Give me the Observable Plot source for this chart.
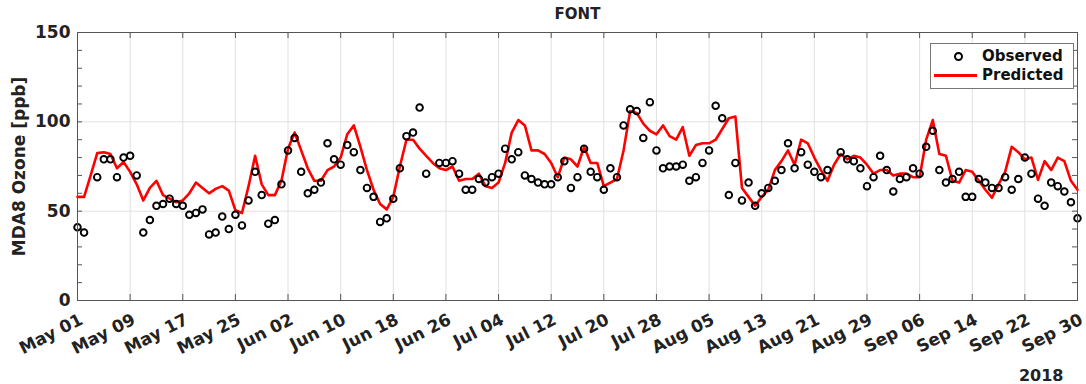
<!DOCTYPE html>
<html><head><meta charset="utf-8">
<script src="https://cdn.jsdelivr.net/npm/d3@7"></script>
<script src="https://cdn.jsdelivr.net/npm/@observablehq/plot@0.6"></script>
<style>
body{margin:0;background:#fff;font-family:"DejaVu Sans",sans-serif;}
#wrap{position:relative;width:1086px;height:384px;overflow:hidden;}
#legend{position:absolute;left:930px;top:43px;width:144px;height:46px;border:1px solid #777;background:#fff;box-sizing:border-box;font-weight:bold;font-size:15px;color:#111;}
#legend .row{position:absolute;left:0;height:20px;line-height:20px;}
#legend .txt{position:absolute;left:51px;}
#legend .circ{position:absolute;left:23px;top:6px;width:5px;height:5px;border:2px solid #000;border-radius:50%;}
#legend .ln{position:absolute;left:3px;top:9px;width:43px;height:3px;background:#f00;}
</style></head><body><div id="wrap"></div>
<script>
const title = "FONT";
const yLabel = "MDA8 Ozone [ppb]";
const yearLabel = "2018";
const startDate = "2018-05-01";
const observed = [41,38,null,69,79,79,69,80,81,70,38,45,53,54,57,54,53,48,49,51,37,38,47,40,48,42,56,72,59,43,45,65,84,91,72,60,62,66,88,79,76,87,83,73,63,58,44,46,57,74,92,94,108,71,null,77,77,78,71,62,62,68,66,69,71,85,79,83,70,68,66,65,65,69,78,63,69,85,72,69,62,74,69,98,107,106,91,111,84,74,75,75,76,67,69,77,84,109,102,59,77,56,66,53,60,63,67,73,88,74,83,76,72,69,73,null,83,79,78,74,64,69,81,73,61,68,69,74,71,86,95,73,66,68,72,58,58,68,66,63,63,69,62,68,80,71,57,53,66,64,61,55,46];
const predicted = [58,58,70,82.5,83,82,74,77.5,72,65,56,63,67,59,57,55,56,60,66,63,60,62.5,64,61.5,50.5,49,64,81,65,59,59,67,85,94,84,74,67,67,73,75,80,93,98,86,73,62,54,51,58,75,90,90,85,81,77,74,73,75,67,68,68,71,64,63,66,77,94,101,98,84,84,82,77,69,80,79,75,86,77,77,64,66,68,84,106,105,99,95,93,98,92,90,97,81,87,88,88,90,96,102,103,63,58,53,58,62,73,78,84,76,90,88,80,73,67,76,82,79,81,80,76,71,73,73,70,71,71,69,69,90,101,82,81,67,66,73,72,67,62,57.5,65,72,86,83,79,80,67.5,78,73,80,78,67,62];
const xTickLabels = ["2018-05-01","2018-05-09","2018-05-17","2018-05-25","2018-06-02","2018-06-10","2018-06-18","2018-06-26","2018-07-04","2018-07-12","2018-07-20","2018-07-28","2018-08-05","2018-08-13","2018-08-21","2018-08-29","2018-09-06","2018-09-14","2018-09-22","2018-09-30"];
const yMajor = [0,50,100,150];
const yMinor = [0,10,20,30,40,50,60,70,80,90,100,110,120,130,140,150];
const legendItems = ["Observed","Predicted"];

const start = new Date(startDate);
const dates = observed.map((_, i) => d3.utcDay.offset(start, i));
const rows = dates.map((date, i) => ({date, obs: observed[i], pred: predicted[i]}));
const xTicks = xTickLabels.map(s => new Date(s));

const chart = Plot.plot({
  width: 1086, height: 384,
  marginLeft: 77, marginRight: 9, marginTop: 32, marginBottom: 84,
  style: {fontFamily: "DejaVu Sans", fontSize: "16px", fontWeight: "bold", color: "#222", background: "white"},
  x: {type: "utc", domain: [dates[0], dates[dates.length - 1]]},
  y: {domain: [0, 150]},
  marks: [
    Plot.gridX(xTicks, {stroke: "#e0e0e0", strokeOpacity: 1}),
    Plot.gridY([50, 100], {stroke: "#e0e0e0", strokeOpacity: 1}),
    Plot.tickY(yMinor, {y: d => d, insetRight: 995, stroke: "#555"}),
    Plot.tickY(yMinor, {y: d => d, insetLeft: 995, stroke: "#555"}),
    Plot.tickX(xTicks, {x: d => d, insetTop: 262, stroke: "#555"}),
    Plot.tickX(xTicks, {x: d => d, insetBottom: 262, stroke: "#555"}),
    Plot.line(rows, {x: "date", y: "pred", stroke: "#f00", strokeWidth: 2.6}),
    Plot.dot(rows, {filter: d => d.obs != null, x: "date", y: "obs", r: 3.3, stroke: "#000", strokeWidth: 1.9, fill: "none"}),
    Plot.frame({stroke: "#555"}),
    Plot.axisY(yMajor, {tickSize: 0, tickPadding: 7, fontSize: 17, label: null}),
    Plot.axisX(xTicks, {tickSize: 0, tickRotate: -27, tickPadding: 18, dx: 4, tickFormat: d3.utcFormat("%b %d"), fontSize: 17, label: null}),
    Plot.text([title], {frameAnchor: "top", dy: -18, lineAnchor: "middle", fontSize: 15}),
    Plot.text([yLabel], {frameAnchor: "left", rotate: -90, dx: -58, textAnchor: "middle", fontSize: 17}),
    Plot.text([yearLabel], {frameAnchor: "bottom-right", dy: 75, dx: -14, textAnchor: "end", lineAnchor: "middle", fontSize: 16})
  ]
});
const wrap = document.getElementById("wrap");
wrap.appendChild(chart);
const lg = document.createElement("div");
lg.id = "legend";
lg.innerHTML = `<div class="row" style="top:2px;width:100%"><span class="circ"></span><span class="txt">${legendItems[0]}</span></div>
<div class="row" style="top:21px;width:100%"><span class="ln"></span><span class="txt">${legendItems[1]}</span></div>`;
wrap.appendChild(lg);
</script>
</body></html>
